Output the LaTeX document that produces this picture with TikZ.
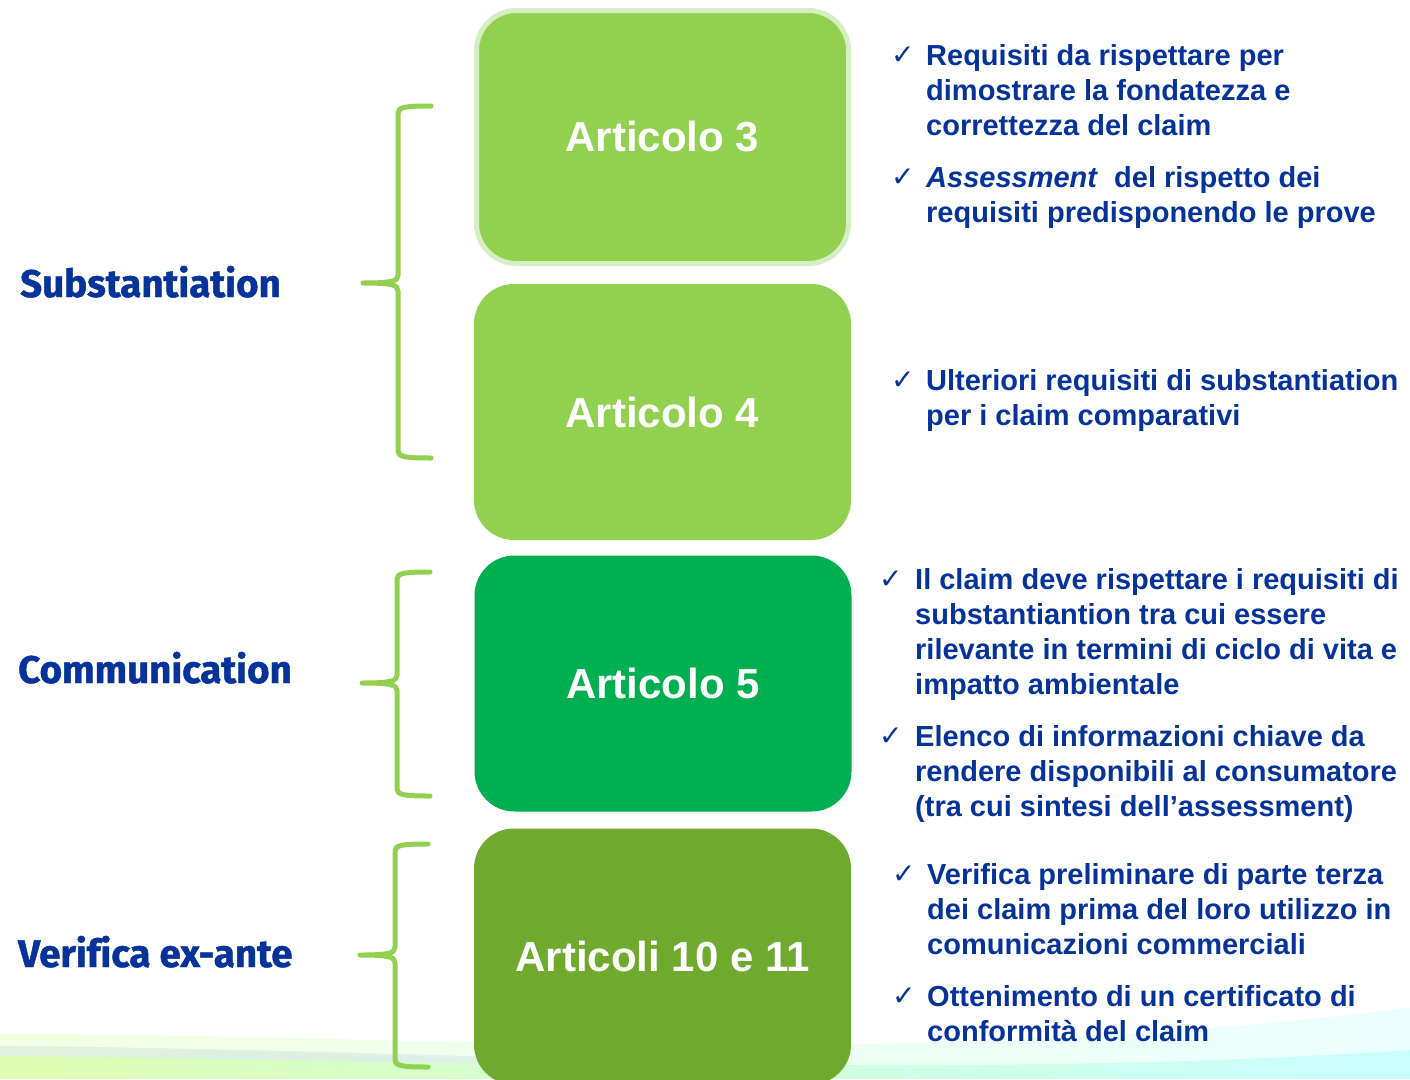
\documentclass[tikz,border=0pt]{standalone}
\usepackage{fontspec}
\setmainfont{Liberation Sans}
\newfontfamily\topicfont{Fira Sans}[Ligatures=NoCommon, BoldFeatures={FakeBold=1.2}]
\newfontfamily\tickfont{DejaVu Sans}
\usetikzlibrary{positioning}

\definecolor{navy}{HTML}{06339A}
\definecolor{leafgreen}{HTML}{92D050}
\definecolor{leafrim}{HTML}{D6EEC4}
\definecolor{emerald}{HTML}{00AF50}
\definecolor{olivegreen}{HTML}{6FA92E}

\tikzset{
  article/.style={rounded corners=40pt, minimum width=377pt, minimum height=256pt,
    inner sep=0pt, text=white, font=\fontsize{42}{50}\selectfont\bfseries},
  topic/.style={anchor=base west, inner sep=0pt, text=navy,
    font=\topicfont\fontsize{38.5}{44}\selectfont\bfseries},
  point/.style={anchor=base west, inner sep=0pt, align=left, text=navy,
    font=\fontsize{29}{35.3}\selectfont\bfseries},
  tick/.style={anchor=base west, inner sep=0pt, text=navy,
    font=\tickfont\fontsize{28}{30}\selectfont},
  curly/.style={draw=leafgreen, line width=5pt, line cap=round, line join=round}
}

\begin{document}
\begin{tikzpicture}[x=1pt, y=-1pt]
\clip (0,0) rectangle (1410,1079);
\useasboundingbox (0,0) rectangle (1410,1079);

% soft band along the bottom
\shade[left color=green!45!yellow!30, right color=cyan!22]
  (0,1079) -- (0,1034) .. controls (400,1034) and (900,1072) .. (1410,1008) -- (1410,1079) -- cycle;
\fill[white, opacity=.65]
  (0,1034) .. controls (400,1034) and (900,1072) .. (1410,1008) -- (1410,1050)
  .. controls (900,1084) and (400,1050) .. (0,1046) -- cycle;
\fill[cyan!30!gray!20, opacity=.7]
  (0,1046) .. controls (300,1048) and (600,1062) .. (860,1066)
  .. controls (600,1070) and (300,1058) .. (0,1056) -- cycle;

% article boxes
\node[article, fill=leafgreen, draw=leafrim, line width=5pt,
  minimum width=372pt, minimum height=253pt] (art3) at (662.5,137) {Articolo 3};
\node[article, fill=leafgreen] (art4) at (662.5,412) {Articolo 4};
\node[article, fill=emerald] (art5) at (663,683.5) {Articolo 5};
\node[article, fill=olivegreen] (art1011) at (662.5,956.5) {Articoli 10 e 11};

% braces
\foreach \x/\t/\m/\b in {398/106/283/458, 397/572/683/796, 395/844/955/1067}
  \draw[curly] (\x+33,\t) .. controls (\x+8,\t) and (\x,\t+1) .. (\x,\t+7) -- (\x,\m-8)
    .. controls (\x,\m-2) and (\x-5,\m) .. (\x-35,\m)
    .. controls (\x-5,\m) and (\x,\m+2) .. (\x,\m+8) -- (\x,\b-7)
    .. controls (\x,\b-1) and (\x+8,\b) .. (\x+33,\b);

% topics
\node[topic] (subst) at (20,297) {Substantiation};
\node[topic] (comm) at (18,683) {Communication};
\node[topic] (verif) at (18,967) {Verifica ex-ante};

% points (base = last line, so shift by the number of lines)
\foreach \n/\cx/\tx/\y/\k/\txt in {
    a1/891/926/65/3/{Requisiti da rispettare per\\dimostrare la fondatezza e\\correttezza del claim},
    a2/891/926/187/2/{\textit{Assessment}~ del rispetto dei\\requisiti predisponendo le prove},
    b1/891/926/390/2/{Ulteriori requisiti di substantiation\\per i claim comparativi},
    c1/879/915/589/4/{Il claim deve rispettare i requisiti di\\substantiantion tra cui essere\\rilevante in termini di ciclo di vita e\\impatto ambientale},
    c2/879/915/746/3/{Elenco di informazioni chiave da\\rendere disponibili al consumatore\\(tra cui sintesi dell’assessment)},
    d1/892/927/884/3/{Verifica preliminare di parte terza\\dei claim prima del loro utilizzo in\\comunicazioni commerciali},
    d2/892/927/1006/2/{Ottenimento di un certificato di\\conformità del claim}}{
  \node[tick] (tick-\n) at (\cx,\y-1) {✓};
  \node[point] (pt-\n) at (\tx,\y+35.3*\k-35.3) {\txt};
}
\end{tikzpicture}
\end{document}
